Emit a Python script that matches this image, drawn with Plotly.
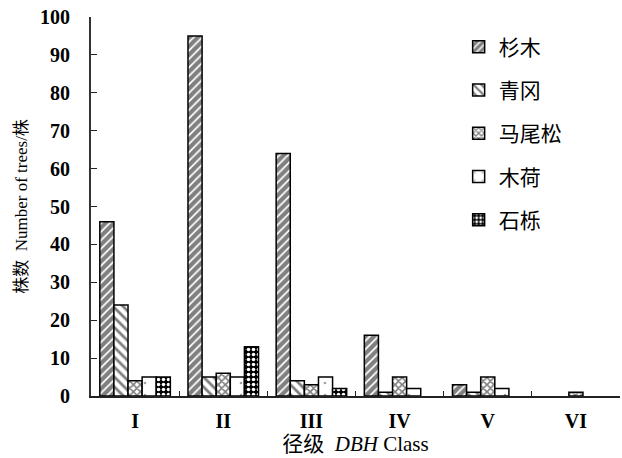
import plotly.graph_objects as go

# DBH classes on the x axis
classes = ["I", "II", "III", "IV", "V", "VI"]

# Number of trees per species in each DBH class
shanmu = [46, 95, 64, 16, 3, 0]       # 杉木
qinggang = [24, 5, 4, 1, 1, 0]        # 青冈
maweisong = [4, 6, 3, 5, 5, 1]        # 马尾松
muhe = [5, 5, 5, 2, 2, 0]             # 木荷
shili = [5, 13, 2, 0, 0, 0]           # 石栎

species = [
    ("杉木", shanmu, dict(shape="/", fgcolor="black", bgcolor="white", size=6, solidity=0.7)),
    ("青冈", qinggang, dict(shape="\\", fgcolor="black", bgcolor="white", size=7, solidity=0.4)),
    ("马尾松", maweisong, dict(shape="x", fgcolor="black", bgcolor="white", size=5, solidity=0.55)),
    ("木荷", muhe, dict(shape=".", fgcolor="#444", bgcolor="white", size=12, solidity=0.04)),
    ("石栎", shili, dict(shape=".", fgcolor="white", bgcolor="black", size=5, solidity=0.4,
                         fillmode="replace")),
]

serif = "Liberation Serif, Times New Roman, Noto Sans CJK SC, serif"

fig = go.Figure()
for i, (name, vals, pat) in enumerate(species):
    # empty classes get no outline, so zero counts leave no mark on the axis
    widths = [1.5 if v > 0 else 0 for v in vals]
    fig.add_trace(go.Bar(
        x=classes, y=vals, name=name, legendgroup=f"g{i}",
        marker=dict(color="white", pattern=pat,
                    line=dict(color="black", width=widths)),
    ))

fig.update_layout(
    width=622, height=458,
    margin=dict(l=91, r=2, t=17, b=62),
    paper_bgcolor="white", plot_bgcolor="white",
    barmode="group", bargap=0.2, bargroupgap=0,
    font=dict(family=serif, size=18, color="black"),
    showlegend=True,
    legend=dict(x=0.695, y=0.975, xanchor="left", yanchor="top",
                tracegroupgap=13, font=dict(size=21, family=serif),
                itemwidth=30, bgcolor="rgba(0,0,0,0)"),
)

fig.update_xaxes(
    type="category", showline=True, linecolor="#222", linewidth=2,
    ticks="inside", tickson="boundaries", ticklen=5, tickcolor="#222",
    tickfont=dict(size=20, family=serif, weight="bold"), ticklabelstandoff=6,
    title=dict(text="径级  <i>DBH</i> Class", standoff=2,
               font=dict(size=21, family=serif)),
    showgrid=False, zeroline=False,
)

fig.update_yaxes(
    range=[0, 100], dtick=10, showline=True, linecolor="#333", linewidth=2,
    ticks="inside", ticklen=6, tickcolor="#222",
    tickfont=dict(size=20, family=serif, weight="bold"), ticklabelstandoff=15,
    title=dict(text="株数  Number of trees/株", standoff=8,
               font=dict(size=17, family=serif)),
    showgrid=False, zeroline=False,
)

fig.write_html("out.html")
